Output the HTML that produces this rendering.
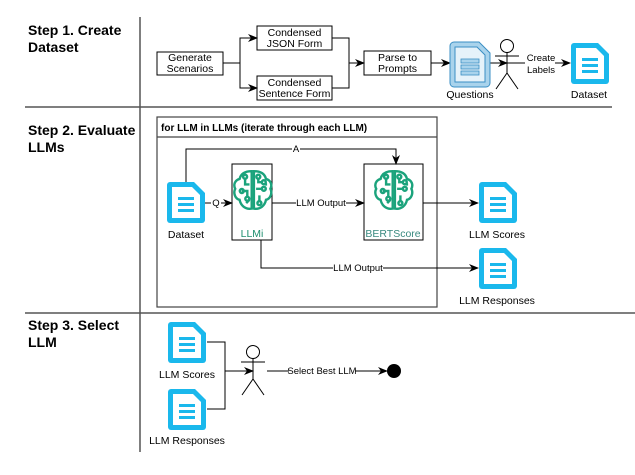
<!DOCTYPE html>
<html><head><meta charset="utf-8"><style>
html,body{margin:0;padding:0;background:#fff;width:635px;height:475px;overflow:hidden}
svg{display:block;font-family:"Liberation Sans",Arial,sans-serif}
</style></head><body>
<svg width="635" height="475" viewBox="0 0 635 475" xmlns="http://www.w3.org/2000/svg">
<defs>
<marker id="ar" markerWidth="10" markerHeight="8" refX="9" refY="4" orient="auto" markerUnits="userSpaceOnUse">
<path d="M0,0 L10,4 L0,8 L3,4 Z" fill="#000"/></marker>
<g id="doc">
<path d="M3,0 H27 L38,11 V38 a3,3 0 0 1 -3,3 H3 a3,3 0 0 1 -3,-3 V3 a3,3 0 0 1 3,-3 Z" fill="#1ab8ec"/>
<path d="M5,5 H25 L33,13 V36 H5 Z" fill="#fff"/>
<rect x="11" y="15" width="16" height="3" fill="#1ab8ec"/>
<rect x="11" y="21" width="16" height="3" fill="#1ab8ec"/>
<rect x="11" y="27" width="16" height="3" fill="#1ab8ec"/>
</g>
<g id="brain" fill="none" stroke="#1ba37c" stroke-width="2.2">
<path d="M17,2 C10,2 7,5 6,9 C2,10 0,14 2,18 C0,22 2,27 6,28 C7,33 11,37 17,36 Z"/>
<path d="M19,2 C26,2 29,5 30,9 C34,10 36,14 34,18 C36,22 34,27 30,28 C29,33 25,37 19,36 Z"/>
<path d="M11,8 V14 H15 M8,20 H13 V26 M12,31 L15,28 M23,8 V12 H27 M21,18 H27 M24,24 V30 M29,14 L31,14"/>
<circle cx="11" cy="7" r="1.8"/><circle cx="8" cy="20" r="1.8"/><circle cx="13" cy="27" r="1.8"/>
<circle cx="23" cy="7" r="1.8"/><circle cx="28" cy="12" r="1.8"/><circle cx="28" cy="18" r="1.8"/><circle cx="24" cy="31" r="1.8"/>
</g>
<g id="actor" fill="none" stroke="#000" stroke-width="1">
<circle cx="0" cy="0" r="6.5" fill="#fff"/>
<path d="M0,6.5 V27 M-12,10 H12 M0,27 L-11,43 M0,27 L11,43"/>
</g>
</defs>

<line x1="140" y1="17" x2="140" y2="452" stroke="#555" stroke-width="1.5"/>
<line x1="25" y1="107" x2="612" y2="107" stroke="#555" stroke-width="1.5"/>
<line x1="25" y1="313" x2="635" y2="313" stroke="#555" stroke-width="1.5"/>

<g font-weight="bold" font-size="14" fill="#000">
<text x="28" y="35">Step 1. Create</text><text x="28" y="52">Dataset</text>
<text x="28" y="135">Step 2. Evaluate</text><text x="28" y="152">LLMs</text>
<text x="28" y="330">Step 3. Select</text><text x="28" y="347">LLM</text>
</g>

<g font-size="10.5" text-anchor="middle" fill="#000">
<rect x="157" y="52" width="66" height="23" fill="#fff" stroke="#000"/>
<text x="190" y="61">Generate</text><text x="190" y="72">Scenarios</text>
<rect x="257" y="26" width="75" height="24" fill="#fff" stroke="#000"/>
<text x="294.5" y="36">Condensed</text><text x="294.5" y="47">JSON Form</text>
<rect x="257" y="76" width="75" height="24" fill="#fff" stroke="#000"/>
<text x="294.5" y="86">Condensed</text><text x="294.5" y="97">Sentence Form</text>
<rect x="364" y="51" width="67" height="24" fill="#fff" stroke="#000"/>
<text x="397.5" y="61">Parse to</text><text x="397.5" y="72">Prompts</text>
</g>
<g fill="none" stroke="#000">
<path d="M223,63 H240 V38 H257" marker-end="url(#ar)"/>
<path d="M240,63 V88 H257" marker-end="url(#ar)"/>
<path d="M332,38 H349 V63 H364" marker-end="url(#ar)"/>
<path d="M332,88 H349 V63"/>
<path d="M431,63 H450" marker-end="url(#ar)"/>
<path d="M490,63 H507" marker-end="url(#ar)"/>
<path d="M507,63 H525 M555,63 H570" marker-end="url(#ar)"/>
</g>
<g transform="translate(450,42)">
<path d="M4,0 H29 L40,11 V41 a4,4 0 0 1 -4,4 H4 a4,4 0 0 1 -4,-4 V4 a4,4 0 0 1 4,-4 Z" fill="#a9d3ec" stroke="#3b8fc4"/>
<path d="M5,5 H27 L35,13 V40 H5 Z" fill="#e5f2fa" stroke="#3b8fc4"/>
<rect x="11" y="17" width="18" height="4" fill="#a9d3ec" stroke="#3b8fc4" stroke-width=".8"/>
<rect x="11" y="23" width="18" height="4" fill="#a9d3ec" stroke="#3b8fc4" stroke-width=".8"/>
<rect x="11" y="29" width="18" height="4" fill="#a9d3ec" stroke="#3b8fc4" stroke-width=".8"/>
</g>
<use href="#actor" x="507" y="46"/>
<use href="#doc" x="571" y="43"/>
<g font-size="10.5" fill="#000" text-anchor="middle">
<text x="470" y="98">Questions</text>
<text x="589" y="98">Dataset</text>
</g>
<rect x="526" y="53" width="29" height="22" fill="#fff"/>
<g font-size="9.5" fill="#000" text-anchor="middle"><text x="541" y="61">Create</text><text x="541" y="73">Labels</text></g>

<rect x="157" y="117" width="280" height="190" fill="#fff" stroke="#444" stroke-width="1.2"/>
<line x1="157" y1="137" x2="437" y2="137" stroke="#444" stroke-width="1.2"/>
<text x="161" y="131" font-size="10" font-weight="bold">for LLM in LLMs (iterate through each LLM)</text>
<rect x="232" y="164" width="40" height="76" fill="#fff" stroke="#000"/>
<rect x="364" y="164" width="59" height="76" fill="#fff" stroke="#000"/>
<use href="#brain" transform="translate(233,169) scale(1.1)"/>
<use href="#brain" transform="translate(374,169) scale(1.1)"/>
<text x="252" y="237" font-size="10.5" fill="#1f8f6f" text-anchor="middle">LLMi</text>
<text x="393" y="237" font-size="10.5" fill="#3a8a80" text-anchor="middle">BERTScore</text>
<use href="#doc" x="167" y="182"/>
<text x="186" y="238" font-size="10.5" text-anchor="middle">Dataset</text>
<g fill="none" stroke="#000">
<path d="M186,182 V149 H396 V164" marker-end="url(#ar)"/>
<path d="M205,203 H232" marker-end="url(#ar)"/>
<path d="M272,203 H364" marker-end="url(#ar)"/>
<path d="M423,203 H478" marker-end="url(#ar)"/>
<path d="M261,240 V268 H478" marker-end="url(#ar)"/>
</g>
<g font-size="9.5" text-anchor="middle">
<rect x="292" y="145" width="8" height="9" fill="#fff"/><text x="296" y="152">A</text>
<rect x="211" y="198" width="10" height="10" fill="#fff"/><text x="216" y="206">Q</text>
<rect x="296" y="197" width="50" height="11" fill="#fff"/><text x="321" y="206">LLM Output</text>
<rect x="333" y="262" width="50" height="11" fill="#fff"/><text x="358" y="271">LLM Output</text>
</g>
<use href="#doc" x="479" y="182"/>
<use href="#doc" x="479" y="248"/>
<g font-size="10.5" text-anchor="middle">
<text x="497" y="238">LLM Scores</text>
<text x="497" y="304">LLM Responses</text>
</g>

<use href="#doc" x="168" y="322"/>
<use href="#doc" x="168" y="389"/>
<g font-size="10.5" text-anchor="middle">
<text x="187" y="378">LLM Scores</text>
<text x="187" y="444">LLM Responses</text>
</g>
<use href="#actor" x="253" y="352"/>
<g fill="none" stroke="#000">
<path d="M207,342 H225 V409 H207"/>
<path d="M225,371 H253" marker-end="url(#ar)"/>
<path d="M267,371 H387" marker-end="url(#ar)"/>
</g>
<circle cx="394" cy="371" r="7" fill="#000"/>
<rect x="289" y="365" width="66" height="11" fill="#fff"/>
<text x="322" y="374" font-size="9.5" text-anchor="middle">Select Best LLM</text>
</svg>
</body></html>
